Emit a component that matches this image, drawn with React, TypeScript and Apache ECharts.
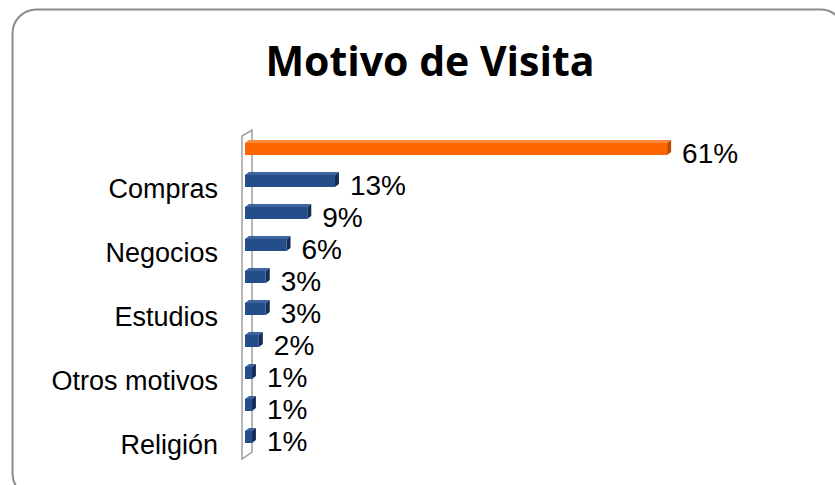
import React, { useEffect, useRef } from "react";
import * as echarts from "echarts";

const categories = [
  "Turismo",
  "Compras",
  "Visita a familiares",
  "Negocios",
  "Salud",
  "Estudios",
  "Trabajo",
  "Otros motivos",
  "Eventos",
  "Religión",
];
const values = [61, 13, 9, 6, 3, 3, 2, 1, 1, 1];
const titleText = "Motivo de Visita";

const GRID_LEFT = 245;
const GRID_TOP = 133;
const GRID_H = 320;
const X_MAX = 70;
const PX_PER_UNIT = 6.92;

export default function App() {
  const ref = useRef<HTMLDivElement>(null);
  useEffect(() => {
    if (!ref.current) return;
    const chart = echarts.init(ref.current, null, { renderer: "svg" });
    const dx = 4;
    const dy = 3;
    const barH = 12;
    chart.setOption({
      animation: false,
      backgroundColor: "#ffffff",
      grid: {
        left: GRID_LEFT,
        top: GRID_TOP,
        width: X_MAX * PX_PER_UNIT,
        height: GRID_H,
        containLabel: false,
      },
      xAxis: { type: "value", min: 0, max: X_MAX, show: false },
      yAxis: {
        type: "category",
        data: categories,
        inverse: true,
        axisLine: { show: false },
        axisTick: { show: false },
        splitLine: { show: false },
        axisLabel: {
          interval: (i: number) => i % 2 === 1,
          margin: 27,
          fontSize: 27,
          fontFamily: "Liberation Sans, Arial, sans-serif",
          color: "#000000",
          verticalAlign: "top",
          lineHeight: 16,
        },
      },
      graphic: [
        {
          type: "rect",
          shape: { x: 12.5, y: 9.5, width: 832, height: 488, r: 24 },
          style: { fill: "none", stroke: "#8c8c8c", lineWidth: 2 },
          z: 0,
        },
        {
          type: "polygon",
          shape: {
            points: [
              [GRID_LEFT - 3, GRID_TOP + GRID_H + 6],
              [GRID_LEFT - 3, GRID_TOP + 3],
              [GRID_LEFT + 7, GRID_TOP - 3],
              [GRID_LEFT + 7, GRID_TOP + GRID_H - 1],
            ],
          },
          style: { fill: "#ffffff", stroke: "#a0a0a0", lineWidth: 1.5 },
          z: 0,
        },
        {
          type: "text",
          style: {
            text: titleText,
            x: 430,
            y: 60,
            align: "center",
            verticalAlign: "middle",
            fontSize: 41,
            fontWeight: "bold",
            fontFamily: "Open Sans, sans-serif",
            fill: "#000000",
          },
          z: 5,
        },
      ],
      series: [
        {
          type: "custom",
          data: values.map((v, i) => [i, v]),
          encode: { y: 0, x: 1 },
          renderItem: (params: any, api: any) => {
            const cat = api.value(0);
            const val = api.value(1);
            const start = api.coord([0, cat]);
            const end = api.coord([val, cat]);
            const hi = params.dataIndex === 0;
            const face = hi ? "#ff6600" : "#244d8a";
            const side = hi ? "#b84a00" : "#142d55";
            const top = hi ? "#ff8a3d" : "#3d64a3";
            const x0 = start[0];
            const x1 = end[0];
            const y0 = start[1] - barH / 2;
            const y1 = start[1] + barH / 2;
            return {
              type: "group",
              children: [
                {
                  type: "polygon",
                  shape: { points: [[x0, y0], [x0 + dx, y0 - dy], [x1 + dx, y0 - dy], [x1, y0]] },
                  style: { fill: top },
                },
                {
                  type: "polygon",
                  shape: { points: [[x1, y0], [x1 + dx, y0 - dy], [x1 + dx, y1 - dy], [x1, y1]] },
                  style: { fill: side },
                },
                {
                  type: "rect",
                  shape: { x: x0, y: y0, width: x1 - x0, height: barH },
                  style: { fill: face },
                },
                {
                  type: "text",
                  style: {
                    text: val + "%",
                    x: x1 + dx + 11,
                    y: start[1] + 4,
                    align: "left",
                    verticalAlign: "middle",
                    fontSize: 28,
                    fontFamily: "Liberation Sans, Arial, sans-serif",
                    fill: "#000000",
                  },
                },
              ],
            };
          },
        },
      ],
    });
    return () => chart.dispose();
  }, []);
  return (
    <div
      ref={ref}
      style={{ position: "absolute", left: 0, top: 0, width: 835, height: 485 }}
    />
  );
}
